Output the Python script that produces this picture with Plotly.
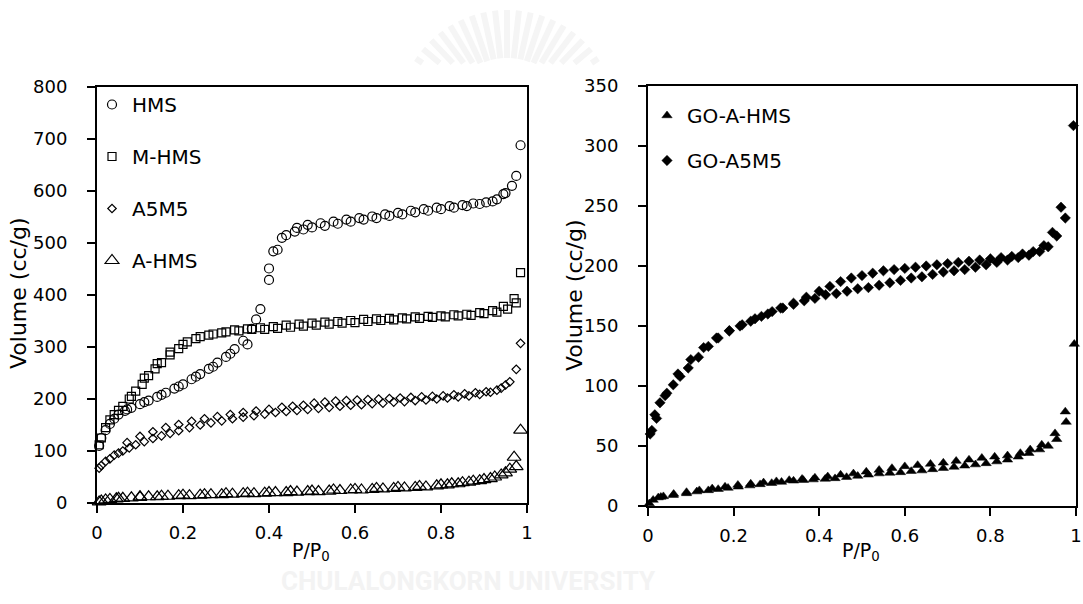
import math
import plotly.graph_objects as go

# ---------------- N2 isotherm data (relative pressure P/P0, volume cc/g) ----------------
# Left panel
hms_p = [0.005, 0.01, 0.02, 0.03, 0.04, 0.05, 0.065, 0.08, 0.10, 0.12, 0.14, 0.16, 0.18, 0.20,
         0.22, 0.24, 0.26, 0.28, 0.30, 0.32, 0.34, 0.36, 0.37, 0.38, 0.40, 0.42, 0.44, 0.46,
         0.48, 0.50, 0.53, 0.56, 0.59, 0.62, 0.65, 0.68, 0.71, 0.74, 0.77, 0.80, 0.83, 0.86,
         0.89, 0.92, 0.945, 0.965, 0.985,
         0.975, 0.95, 0.93, 0.905, 0.875, 0.85, 0.82, 0.79, 0.76, 0.73, 0.70, 0.67, 0.64, 0.61,
         0.58, 0.55, 0.52, 0.49, 0.465, 0.43, 0.41, 0.40, 0.35, 0.31, 0.27, 0.23, 0.19, 0.15,
         0.11, 0.07]
hms_v = [110, 125, 140, 152, 162, 170, 177, 183, 190, 197, 204, 212, 220, 228,
         238, 248, 258, 270, 281, 296, 312, 335, 353, 373, 429, 487, 515, 522,
         526, 530, 533, 537, 541, 545, 548, 552, 555, 559, 562, 565, 568, 571,
         575, 580, 594, 610, 688,
         629, 596, 584, 578, 576, 573, 571, 568, 565, 562, 558, 555, 551, 548,
         545, 541, 538, 535, 529, 510, 484, 451, 305, 287, 262, 243, 224, 208,
         194, 180]

mhms_p = [0.005, 0.01, 0.02, 0.03, 0.04, 0.05, 0.06, 0.075, 0.09, 0.105, 0.12, 0.135, 0.15,
          0.17, 0.19, 0.21, 0.24, 0.27, 0.30, 0.33, 0.36, 0.39, 0.42, 0.45, 0.48, 0.51, 0.54,
          0.57, 0.60, 0.63, 0.66, 0.69, 0.72, 0.75, 0.78, 0.81, 0.84, 0.87, 0.90, 0.93, 0.955,
          0.975, 0.985,
          0.97, 0.945, 0.92, 0.89, 0.86, 0.83, 0.80, 0.77, 0.74, 0.71, 0.68, 0.65, 0.62, 0.59,
          0.56, 0.53, 0.50, 0.47, 0.44, 0.41, 0.38, 0.35, 0.32, 0.29, 0.26, 0.23, 0.20, 0.17,
          0.14, 0.11, 0.08]
mhms_v = [112, 125, 145, 160, 170, 178, 186, 200, 215, 228, 245, 258, 270,
          285, 297, 310, 320, 325, 329, 331, 334, 334, 336, 338, 340, 342, 344,
          346, 347, 349, 351, 352, 354, 355, 357, 358, 360, 361, 364, 367, 373,
          385, 443,
          393, 378, 370, 366, 363, 362, 360, 359, 358, 356, 355, 354, 353, 351,
          349, 348, 346, 344, 342, 339, 337, 335, 333, 327, 323, 316, 305, 290,
          268, 240, 205]

a5m5_p = [0.005, 0.01, 0.02, 0.03, 0.04, 0.05, 0.06, 0.075, 0.09, 0.11, 0.13, 0.15, 0.17,
          0.19, 0.215, 0.24, 0.265, 0.29, 0.315, 0.34, 0.365, 0.39, 0.415, 0.44, 0.465, 0.49,
          0.515, 0.54, 0.565, 0.59, 0.615, 0.64, 0.665, 0.69, 0.715, 0.74, 0.765, 0.79, 0.815,
          0.84, 0.865, 0.89, 0.915, 0.94, 0.96, 0.975, 0.985,
          0.95, 0.93, 0.905, 0.88, 0.855, 0.83, 0.805, 0.78, 0.755, 0.73, 0.705, 0.68, 0.655,
          0.63, 0.605, 0.58, 0.555, 0.53, 0.505, 0.48, 0.455, 0.43, 0.40, 0.37, 0.34, 0.31,
          0.28, 0.25, 0.22, 0.19, 0.16, 0.13, 0.10, 0.07]
a5m5_v = [67, 72, 80, 85, 92, 96, 100, 106, 112, 118, 124, 129, 134,
          139, 145, 150, 154, 158, 162, 165, 168, 171, 174, 176, 178, 180,
          182, 184, 186, 188, 189, 191, 192, 194, 195, 197, 198, 200, 202,
          204, 206, 209, 213, 221, 233, 257, 307,
          227, 217, 214, 212, 210, 208, 206, 205, 204, 203, 202, 201, 200,
          199, 198, 197, 196, 194, 192, 188, 186, 184, 180, 177, 174, 170,
          166, 162, 157, 151, 145, 137, 128, 116]

ahms_p = [0.005, 0.01, 0.02, 0.03, 0.045, 0.06, 0.08, 0.10, 0.12, 0.14, 0.165, 0.19, 0.215,
          0.24, 0.265, 0.29, 0.315, 0.34, 0.365, 0.39, 0.415, 0.44, 0.465, 0.49, 0.515, 0.54,
          0.565, 0.59, 0.615, 0.64, 0.665, 0.69, 0.715, 0.74, 0.765, 0.79, 0.815, 0.84, 0.865,
          0.89, 0.915, 0.94, 0.96, 0.975, 0.985,
          0.97, 0.95, 0.925, 0.90, 0.875, 0.85, 0.825, 0.80, 0.75, 0.70, 0.65, 0.60, 0.55,
          0.50, 0.45, 0.40, 0.35, 0.30, 0.25, 0.20, 0.15, 0.10, 0.05]
ahms_v = [2, 4, 6, 7, 8, 9, 10, 11, 12, 12, 13, 14, 14,
          15, 16, 16, 17, 18, 18, 19, 20, 20, 21, 22, 22, 23,
          24, 25, 25, 26, 27, 28, 29, 30, 31, 33, 35, 37, 40,
          43, 47, 54, 65, 70, 140,
          88, 58, 50, 45, 42, 39, 37, 35, 32, 30, 28, 26, 25,
          23, 22, 20, 19, 18, 16, 15, 13, 12, 9]

# Right panel
goahms_p = [0.003, 0.012, 0.024, 0.036, 0.059, 0.09, 0.114, 0.141, 0.164, 0.187, 0.211, 0.238,
            0.262, 0.289, 0.312, 0.34, 0.363, 0.386, 0.414, 0.437, 0.464, 0.49, 0.515, 0.54,
            0.565, 0.59, 0.615, 0.64, 0.665, 0.69, 0.715, 0.74, 0.765, 0.79, 0.815, 0.84,
            0.865, 0.89, 0.915, 0.935, 0.955, 0.977, 0.996,
            0.975, 0.951, 0.92, 0.893, 0.87, 0.84, 0.81, 0.78, 0.75, 0.72, 0.69, 0.66, 0.63,
            0.60, 0.57, 0.54, 0.51, 0.48, 0.45, 0.42, 0.39, 0.36, 0.33, 0.30, 0.27, 0.24,
            0.21, 0.18, 0.15, 0.12, 0.09, 0.06, 0.03]
goahms_v = [2, 5, 7, 8, 9, 10.5, 12, 13, 14, 15, 16, 17,
            18, 19, 20, 21, 21.5, 22, 22.5, 23, 24, 25, 26, 27,
            27.5, 28, 29, 29.5, 30.5, 31.5, 32.5, 33.5, 34.5, 35.5, 37, 38.5,
            41, 44, 47, 50, 55.6, 70, 135,
            78.6, 60.5, 51, 47, 44, 42, 41, 40, 38.5, 37.5, 36, 35, 34,
            33, 31.5, 30, 28.5, 27, 26, 24.5, 23.5, 22.5, 21.5, 20.5, 19.5, 18.5,
            17.5, 16, 14.5, 13, 11.5, 10, 7.5]

goa5m5_p = [0.005, 0.009, 0.016, 0.028, 0.044, 0.059, 0.075, 0.094, 0.118, 0.141, 0.164, 0.19,
            0.215, 0.24, 0.265, 0.29, 0.315, 0.34, 0.365, 0.39, 0.415, 0.44, 0.465, 0.49,
            0.515, 0.54, 0.565, 0.59, 0.615, 0.64, 0.665, 0.69, 0.715, 0.74, 0.765, 0.79,
            0.815, 0.84, 0.865, 0.89, 0.915, 0.935, 0.955, 0.975, 0.994,
            0.965, 0.945, 0.925, 0.90, 0.875, 0.85, 0.825, 0.80, 0.775, 0.75, 0.725, 0.70,
            0.675, 0.65, 0.625, 0.60, 0.575, 0.55, 0.525, 0.50, 0.475, 0.45, 0.425, 0.40,
            0.37, 0.34, 0.31, 0.28, 0.25, 0.22, 0.19, 0.16, 0.13, 0.10, 0.07, 0.04, 0.02]
goa5m5_v = [60, 63, 76, 86, 94, 101, 108, 115, 124, 133, 140, 146,
            150, 154, 158, 162, 165, 168, 171, 173, 176, 177, 179, 181,
            182, 184, 186, 188, 190, 191, 193, 195, 196, 197, 199, 201,
            203, 205, 207, 209, 212, 216, 225, 240, 317,
            249, 228, 217, 212, 210, 208, 207, 206, 205, 204, 203, 202,
            201, 200, 199, 198, 197, 196, 194, 192, 190, 187, 183, 179,
            174, 169, 165, 160, 156, 151, 146, 140, 132, 122, 110, 92, 73]

x_ticks = [0, 0.2, 0.4, 0.6, 0.8, 1]
x_tick_text = ["0", "0.2", "0.4", "0.6", "0.8", "1"]
left_y_ticks = [0, 100, 200, 300, 400, 500, 600, 700, 800]
right_y_ticks = [0, 50, 100, 150, 200, 250, 300, 350]

FONT = "DejaVu Sans"
W, H = 1083, 604

fig = go.Figure()


def add_series(x, y, name, symbol, size, axes, legend, filled=False):
    xa, ya = axes
    marker = dict(symbol=symbol, size=size, color="black",
                  line=dict(color="black", width=0.5 if filled else 1.2))
    fig.add_trace(go.Scatter(
        x=x, y=y, name=name, mode="markers", marker=marker,
        xaxis=xa, yaxis=ya, legend=legend, legendgroup=name, cliponaxis=False,
    ))


add_series(hms_p, hms_v, "HMS", "circle-open", 9, ("x", "y"), "legend")
add_series(mhms_p, mhms_v, "M-HMS", "square-open", 8, ("x", "y"), "legend")
add_series(a5m5_p, a5m5_v, "A5M5", "diamond-open", 6.5, ("x", "y"), "legend")
add_series(ahms_p, ahms_v, "A-HMS", "triangle-up-open", 12, ("x", "y"), "legend")
add_series(goahms_p, goahms_v, "GO-A-HMS", "triangle-up", 9, ("x2", "y2"), "legend2", True)
add_series(goa5m5_p, goa5m5_v, "GO-A5M5", "diamond", 8, ("x2", "y2"), "legend2", True)

# panel geometry (fractions of the page)
LX0, LX1 = 97 / W, 527 / W
RX0, RX1 = 648 / W, 1076 / W
LY0, LY1 = 1 - 503 / H, 1 - 87 / H
RY0, RY1 = 1 - 506 / H, 1 - 86 / H

axis_common = dict(
    showline=True, linecolor="black", linewidth=2, mirror=True,
    ticks="outside", tickcolor="black", tickwidth=2, ticklen=8,
    showgrid=False, zeroline=False,
    tickfont=dict(family=FONT, size=18, color="black"),
)

fig.update_layout(
    width=W, height=H,
    margin=dict(l=0, r=0, t=0, b=0, pad=0, autoexpand=False),
    paper_bgcolor="white", plot_bgcolor="white",
    font=dict(family=FONT, color="black"),
    xaxis=dict(domain=[LX0, LX1], range=[0, 1], anchor="y", tickvals=x_ticks,
               ticktext=x_tick_text, ticklabelstandoff=4, **axis_common),
    yaxis=dict(domain=[LY0, LY1], range=[0, 800], anchor="x", tickvals=left_y_ticks,
               ticklabelstandoff=16, **axis_common),
    xaxis2=dict(domain=[RX0, RX1], range=[0, 1], anchor="y2", tickvals=x_ticks,
                ticktext=x_tick_text, ticklabelstandoff=4, **axis_common),
    yaxis2=dict(domain=[RY0, RY1], range=[0, 350], anchor="x2", tickvals=right_y_ticks,
                ticklabelstandoff=16, **axis_common),
    legend=dict(x=92 / W, y=1 - 85 / H, xanchor="left", yanchor="top",
                bgcolor="rgba(0,0,0,0)", tracegroupgap=23, itemsizing="trace",
                font=dict(family=FONT, size=20, color="black")),
    legend2=dict(x=647 / W, y=1 - 96 / H, xanchor="left", yanchor="top",
                 bgcolor="rgba(0,0,0,0)", tracegroupgap=16, itemsizing="trace",
                 font=dict(family=FONT, size=20, color="black")),
)

ann = []
for xc, yc in ((18 / W, 1 - 293 / H), (574 / W, 1 - 295 / H)):
    ann.append(dict(text="Volume (cc/g)", xref="paper", yref="paper", x=xc, y=yc,
                    textangle=-90, showarrow=False, xanchor="center", yanchor="middle",
                    font=dict(family=FONT, size=22, color="black")))
for x0, x1 in ((LX0, LX1), (RX0, RX1)):
    ann.append(dict(text="P/P<sub>0</sub>", xref="paper", yref="paper",
                    x=x0 + 0.49 * (x1 - x0) + 3 / W, y=1 - 551 / H, showarrow=False,
                    xanchor="center", yanchor="middle",
                    font=dict(family=FONT, size=19, color="black")))
ann.append(dict(text="<b>CHULALONGKORN UNIVERSITY</b>", xref="paper", yref="paper",
                x=469 / W, y=1 - 581 / H, showarrow=False, xanchor="center",
                yanchor="middle", font=dict(family="Roboto", size=26, color="#f3f3f3")))
fig.update_layout(annotations=ann)

# faint sunburst emblem above the panels
cx, cy = 507, 120
shapes = []
for k in range(19):
    theta = math.radians(34 + k * 112 / 18)
    r_out = 110
    r_in = max(62, 57 / math.sin(theta))
    if r_in >= r_out - 6:
        continue
    x_in, y_in = cx + r_in * math.cos(theta), cy - r_in * math.sin(theta)
    x_out, y_out = cx + r_out * math.cos(theta), cy - r_out * math.sin(theta)
    shapes.append(dict(type="line", xref="paper", yref="paper",
                       x0=x_in / W, y0=1 - y_in / H, x1=x_out / W, y1=1 - y_out / H,
                       line=dict(color="#f5f5f5", width=6), layer="below"))
fig.update_layout(shapes=shapes)

fig.write_html("out.html",
               post_script="document.body.style.margin='0';document.body.style.overflow='hidden';")
